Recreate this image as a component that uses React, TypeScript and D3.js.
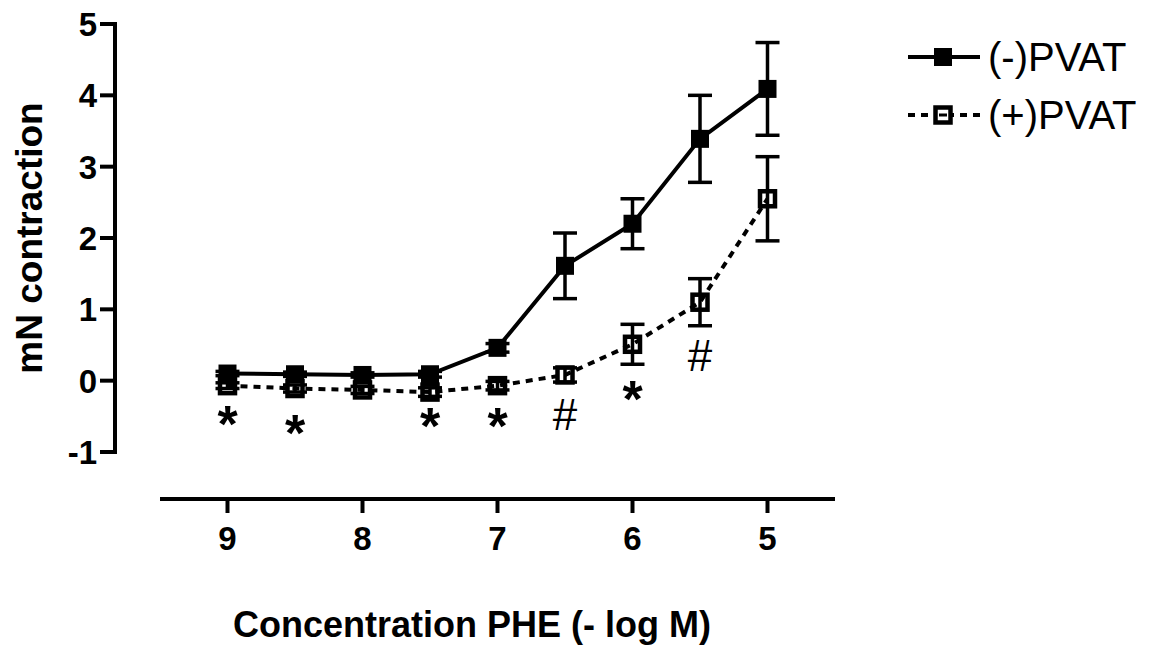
import React from "react";
import * as d3 from "d3";

const concentrations = [9, 8.5, 8, 7.5, 7, 6.5, 6, 5.5, 5];
const minusPvatMean = [0.1, 0.09, 0.08, 0.09, 0.46, 1.61, 2.2, 3.39, 4.09];
const minusPvatSem = [0.03, 0.03, 0.03, 0.04, 0.06, 0.46, 0.35, 0.61, 0.65];
const plusPvatMean = [-0.07, -0.11, -0.13, -0.16, -0.07, 0.08, 0.51, 1.1, 2.55];
const plusPvatSem = [0.04, 0.05, 0.05, 0.06, 0.06, 0.1, 0.28, 0.33, 0.59];

const xTicks = [9, 8, 7, 6, 5];
const yTicks = [-1, 0, 1, 2, 3, 4, 5];

const annotationX = [9, 8.5, 7.5, 7, 6.5, 6, 5.5];
const annotationY = [-0.53, -0.65, -0.55, -0.55, -0.47, -0.17, 0.36];
const annotationSymbol = ["*", "*", "*", "*", "#", "*", "#"];

const seriesNames = ["(-)PVAT", "(+)PVAT"];

const FONT = "Arial, 'Liberation Sans', Helvetica, sans-serif";

export default function App() {
  const x = d3.scaleLinear().domain([9.5, 4.5]).range([160, 835]);
  const y = d3.scaleLinear().domain([-1, 5]).range([452, 24]);

  const line = d3
    .line<[number, number]>()
    .x((d) => x(d[0]))
    .y((d) => y(d[1]));

  const minusPts = concentrations.map((c, i) => [c, minusPvatMean[i]] as [number, number]);
  const plusPts = concentrations.map((c, i) => [c, plusPvatMean[i]] as [number, number]);

  const markerSize = 18;
  const openInner = 15;
  const capHalf = 12;

  const errorBars = (means: number[], sems: number[], key: string) =>
    concentrations.map((c, i) => {
      const cx = x(c);
      const yt = y(means[i] + sems[i]);
      const yb = y(means[i] - sems[i]);
      return (
        <g key={key + i} stroke="#000" strokeWidth={3.5}>
          <line x1={cx} x2={cx} y1={yt} y2={yb} />
          <line x1={cx - capHalf} x2={cx + capHalf} y1={yt} y2={yt} />
          <line x1={cx - capHalf} x2={cx + capHalf} y1={yb} y2={yb} />
        </g>
      );
    });

  const legendX0 = 908;
  const legendX1 = 980;
  const legendMid = 943;
  const legendY = [57, 115];

  return (
    <svg width={1155} height={650} style={{ display: "block", position: "absolute", left: 0, top: 0, background: "#fff" }}>
      <rect width={1155} height={650} fill="#fff" />
      {/* Y axis */}
      <line x1={115} x2={115} y1={y(5) - 2} y2={y(-1) + 2} stroke="#000" strokeWidth={4} />
      {yTicks.map((t) => (
        <g key={"yt" + t}>
          <line x1={100} x2={115} y1={y(t)} y2={y(t)} stroke="#000" strokeWidth={4} />
          <text
            x={97}
            y={y(t)}
            dy="0.36em"
            textAnchor="end"
            fontFamily={FONT}
            fontWeight="bold"
            fontSize={33}
            fill="#000"
          >
            {t}
          </text>
        </g>
      ))}
      <text
        transform={`translate(42, ${(y(5) + y(-1)) / 2}) rotate(-90)`}
        textAnchor="middle"
        fontFamily={FONT}
        fontWeight="bold"
        fontSize={37}
        fill="#000"
      >
        mN contraction
      </text>

      {/* X axis */}
      <line x1={x(9.5)} x2={x(4.5)} y1={499} y2={499} stroke="#000" strokeWidth={4} />
      {xTicks.map((t) => (
        <g key={"xt" + t}>
          <line x1={x(t)} x2={x(t)} y1={499} y2={513} stroke="#000" strokeWidth={4} />
          <text
            x={x(t)}
            y={550}
            textAnchor="middle"
            fontFamily={FONT}
            fontWeight="bold"
            fontSize={33}
            fill="#000"
          >
            {t}
          </text>
        </g>
      ))}
      <text x={472} y={637} textAnchor="middle" fontFamily={FONT} fontWeight="bold" fontSize={36} fill="#000">
        Concentration PHE (- log M)
      </text>

      {/* Series lines */}
      <path d={line(minusPts) || ""} fill="none" stroke="#000" strokeWidth={4} />
      <path d={line(plusPts) || ""} fill="none" stroke="#000" strokeWidth={4} strokeDasharray="7,6" />

      {/* Error bars */}
      {errorBars(minusPvatMean, minusPvatSem, "me")}
      {errorBars(plusPvatMean, plusPvatSem, "pe")}

      {/* Markers */}
      {minusPts.map((p, i) => (
        <rect
          key={"mm" + i}
          x={x(p[0]) - markerSize / 2}
          y={y(p[1]) - markerSize / 2}
          width={markerSize}
          height={markerSize}
          fill="#000"
        />
      ))}
      {plusPts.map((p, i) => (
        <rect
          key={"pm" + i}
          x={x(p[0]) - openInner / 2}
          y={y(p[1]) - openInner / 2}
          width={openInner}
          height={openInner}
          fill="none"
          stroke="#000"
          strokeWidth={4.5}
        />
      ))}

      {/* Significance annotations */}
      {annotationX.map((ax, i) => {
        const s = annotationSymbol[i];
        return (
          <text
            key={"an" + i}
            x={x(ax)}
            y={y(annotationY[i])}
            dy={s === "*" ? "0.46em" : "0.36em"}
            textAnchor="middle"
            fontFamily={FONT}
            fontWeight={s === "*" ? "bold" : "normal"}
            fontSize={s === "*" ? 52 : 44}
            fill="#000"
          >
            {s}
          </text>
        );
      })}

      {/* Legend */}
      <g>
        <line x1={legendX0} x2={legendX1} y1={legendY[0]} y2={legendY[0]} stroke="#000" strokeWidth={4} />
        <rect
          x={legendMid - markerSize / 2}
          y={legendY[0] - markerSize / 2}
          width={markerSize}
          height={markerSize}
          fill="#000"
        />
        <text x={988} y={legendY[0]} dy="0.36em" fontFamily={FONT} fontSize={40} fill="#000">
          {seriesNames[0]}
        </text>
        <line
          x1={legendX0}
          x2={legendX1}
          y1={legendY[1]}
          y2={legendY[1]}
          stroke="#000"
          strokeWidth={4}
          strokeDasharray="7,6"
        />
        <rect
          x={legendMid - openInner / 2}
          y={legendY[1] - openInner / 2}
          width={openInner}
          height={openInner}
          fill="#fff"
          stroke="#000"
          strokeWidth={4.5}
        />
        <line x1={legendMid - 4} x2={legendMid + 4} y1={legendY[1]} y2={legendY[1]} stroke="#000" strokeWidth={3} />
        <text x={988} y={legendY[1]} dy="0.36em" fontFamily={FONT} fontSize={40} fill="#000">
          {seriesNames[1]}
        </text>
      </g>
    </svg>
  );
}
